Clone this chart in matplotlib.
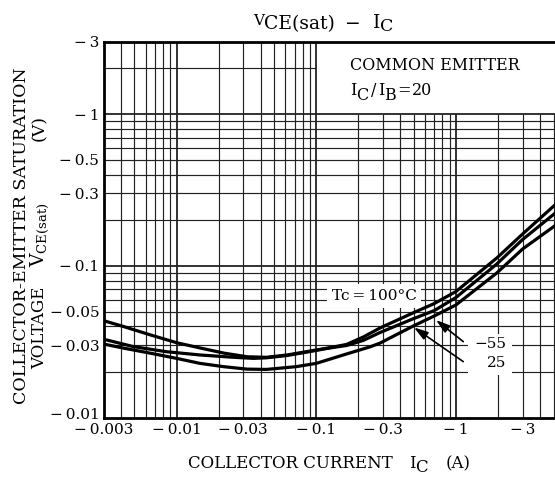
import matplotlib
matplotlib.use("Agg")
import matplotlib.pyplot as plt
import numpy as np
from matplotlib.patches import Rectangle
from matplotlib.ticker import NullLocator
from matplotlib.transforms import offset_copy

plt.rcParams['font.family'] = ['DejaVu Serif']
plt.rcParams['mathtext.fontset'] = 'dejavuserif'

# ---------------- data (magnitudes; chart shows negative values) ----------------
ic_100 = [0.003, 0.0042, 0.0065, 0.010, 0.015, 0.022, 0.032, 0.044, 0.062, 0.077,
          0.125, 0.165, 0.217, 0.286, 0.49, 0.70, 1.0, 1.96, 3.0, 5.2]
vce_100 = [0.0436, 0.0398, 0.0351, 0.0312, 0.0287, 0.0266, 0.0252, 0.0250, 0.0259, 0.0268,
           0.0289, 0.0304, 0.0340, 0.0390, 0.0489, 0.0565, 0.0678, 0.1127, 0.1622, 0.2557]

ic_m55 = [0.003, 0.0049, 0.0085, 0.0147, 0.0255, 0.0354, 0.044, 0.062, 0.077,
          0.125, 0.165, 0.217, 0.286, 0.49, 0.70, 1.0, 1.96, 3.0, 5.2]
vce_m55 = [0.0329, 0.0294, 0.0272, 0.0259, 0.0250, 0.0246, 0.0248, 0.0257, 0.0266,
           0.0288, 0.0299, 0.0323, 0.0364, 0.0447, 0.0508, 0.0619, 0.1029, 0.1492, 0.2248]

ic_25 = [0.003, 0.0042, 0.0065, 0.010, 0.0147, 0.0216, 0.0318, 0.044, 0.0552, 0.0721,
         0.10, 0.165, 0.243, 0.286, 0.49, 0.70, 1.0, 1.96, 3.0, 5.2]
vce_25 = [0.0306, 0.0287, 0.0266, 0.0246, 0.0228, 0.0217, 0.0209, 0.0208, 0.0212, 0.0217,
          0.0228, 0.0263, 0.0293, 0.0310, 0.0400, 0.0468, 0.0553, 0.0898, 0.1292, 0.186]

M = "\u2212\u2009"
x_ticks = [0.003, 0.01, 0.03, 0.1, 0.3, 1, 3]
x_tick_labels = [M + "0.003", M + "0.01", M + "0.03", M + "0.1", M + "0.3", M + "1", M + "3"]
y_ticks = [0.01, 0.03, 0.05, 0.1, 0.3, 0.5, 1, 3]
y_tick_labels = [M + "0.01", M + "0.03", M + "0.05", M + "0.1", M + "0.3", M + "0.5", M + "1", M + "3"]

# ---------------- layout ----------------
W, H = 555, 479
fig = plt.figure(figsize=(W / 100, H / 100), dpi=100)

X0, Y0 = 103.5, 417.7
PXD_X, PXD_Y = 139.7, 151.8
xmin, xmax = 0.003, 10.0
ymin, ymax = 0.01, 3.0
ax_w = PXD_X * np.log10(xmax / xmin)
ax_h = PXD_Y * np.log10(ymax / ymin)
ax = fig.add_axes([X0 / W, (H - Y0) / H, ax_w / W, ax_h / H])
ax.set_xscale('log')
ax.set_yscale('log')
ax.set_xlim(xmin, xmax)
ax.set_ylim(ymin, ymax)

# grid (upper-right region left blank as in the original)
gcol = '#222222'
xg = [m * 10.0 ** e for e in range(-3, 1) for m in range(1, 10)]
xg = [v for v in xg if xmin * 1.01 < v < xmax * 0.99]
for v in xg:
    major = abs(np.log10(v) - round(np.log10(v))) < 1e-6
    top = ymax if v <= 0.1 * 1.001 else 1.0
    ax.vlines(v, ymin, top, color=gcol, lw=1.3 if major else 0.85, zorder=1)
yg = [m * 10.0 ** e for e in range(-2, 1) for m in range(1, 10)]
yg = [v for v in yg if ymin * 1.01 < v < ymax * 0.99]
for v in yg:
    major = abs(np.log10(v) - round(np.log10(v))) < 1e-6
    right = xmax if v <= 1.001 else 0.1
    ax.hlines(v, xmin, right, color=gcol, lw=1.3 if major else 0.85, zorder=1)

# curves
for xs, ys in [(ic_100, vce_100), (ic_m55, vce_m55), (ic_25, vce_25)]:
    ax.plot(xs, ys, color='black', lw=2.3, solid_capstyle='round', solid_joinstyle='round', zorder=3)

# spines / ticks
for s in ['left', 'bottom', 'top']:
    ax.spines[s].set_linewidth(2.0)
    ax.spines[s].set_zorder(5)
ax.spines['right'].set_visible(False)
ax.set_xticks(x_ticks)
ax.set_xticklabels(x_tick_labels)
ax.set_yticks(y_ticks)
ax.set_yticklabels(y_tick_labels)
ax.xaxis.set_minor_locator(NullLocator())
ax.yaxis.set_minor_locator(NullLocator())
ax.tick_params(length=0, labelsize=11, pad=4)
ax.tick_params(axis='y', pad=3)
# raise the bottom-most y label a little (as in the original) so it clears the x labels
lbl = ax.yaxis.get_major_ticks()[0].label1
lbl.set_transform(offset_copy(lbl.get_transform(), fig=fig, x=0, y=4, units='dots'))

# annotations with white backgrounds
ax.text(0.259, 0.0634, "Tc\u2009=\u2009100\u00b0C", fontsize=11, ha='center', va='center', zorder=4,
        bbox=dict(boxstyle='square,pad=0.3', fc='white', ec='none'))
ax.add_patch(Rectangle((1.22, 0.0191), 2.52 - 1.22, 0.0356 - 0.0191, fc='white', ec='none', zorder=2))
ax.text(2.28, 0.0306, "\u221255", fontsize=11, ha='right', va='center', zorder=4)
ax.text(2.28, 0.0231, "25", fontsize=11, ha='right', va='center', zorder=4)
ap = dict(arrowstyle='-|>,head_length=0.7,head_width=0.22', lw=1.2, color='black',
          mutation_scale=12, shrinkA=0, shrinkB=0)
ax.annotate("", xy=(0.72, 0.0440), xytext=(1.129, 0.0317), arrowprops=ap, zorder=4)
ax.annotate("", xy=(0.501, 0.0393), xytext=(1.129, 0.0234), arrowprops=ap, zorder=4)

# ---------------- rich text helper (pixel coords from top-left) ----------------
renderer = fig.canvas.get_renderer()

def rich(x, y, pieces):
    cur = x
    for s, size, dy, gap in pieces:
        cur += gap
        t = fig.text(cur / W, 1 - (y + dy) / H, s, fontsize=size, va='baseline', ha='left')
        cur += t.get_window_extent(renderer).width

# title
rich(253, 25, [("V", 11, 0, 0), ("CE(sat)", 13.5, 4.5, 0), ("\u2212", 13.5, 4, 10),
               ("I", 13.5, 3.5, 12), ("C", 12.5, 6, 0)])
# box text
rich(350, 70, [("COMMON EMITTER", 11.5, 0, 0)])
rich(350, 95, [("I", 11.5, 0, 0), ("C", 11.5, 5, 0), ("/", 11.5, 0, 2), ("I", 11.5, 0, 2),
               ("B", 11.5, 5, 0), ("=", 11.5, 0, 1), ("20", 11.5, 0, 1)])
# x label
rich(188, 468, [("COLLECTOR CURRENT", 12, 0, 0), ("I", 12, 0, 16), ("C", 12, 4, 0), ("(A)", 12, 0, 18)])
# y label
fig.text(22 / W, 1 - 236 / H, "COLLECTOR-EMITTER SATURATION", rotation=90, ha='center', va='center', fontsize=12.5)
fig.text(40 / W, 1 - 328 / H, "VOLTAGE", rotation=90, ha='center', va='center', fontsize=12)
fig.text(40 / W, 1 - 235 / H, r"$\mathregular{V_{CE(sat)}}$", rotation=90, ha='center', va='center', fontsize=13.5)
fig.text(40 / W, 1 - 128 / H, "(V)", rotation=90, ha='center', va='center', fontsize=12.5)

fig.savefig("out.png", dpi=100)
